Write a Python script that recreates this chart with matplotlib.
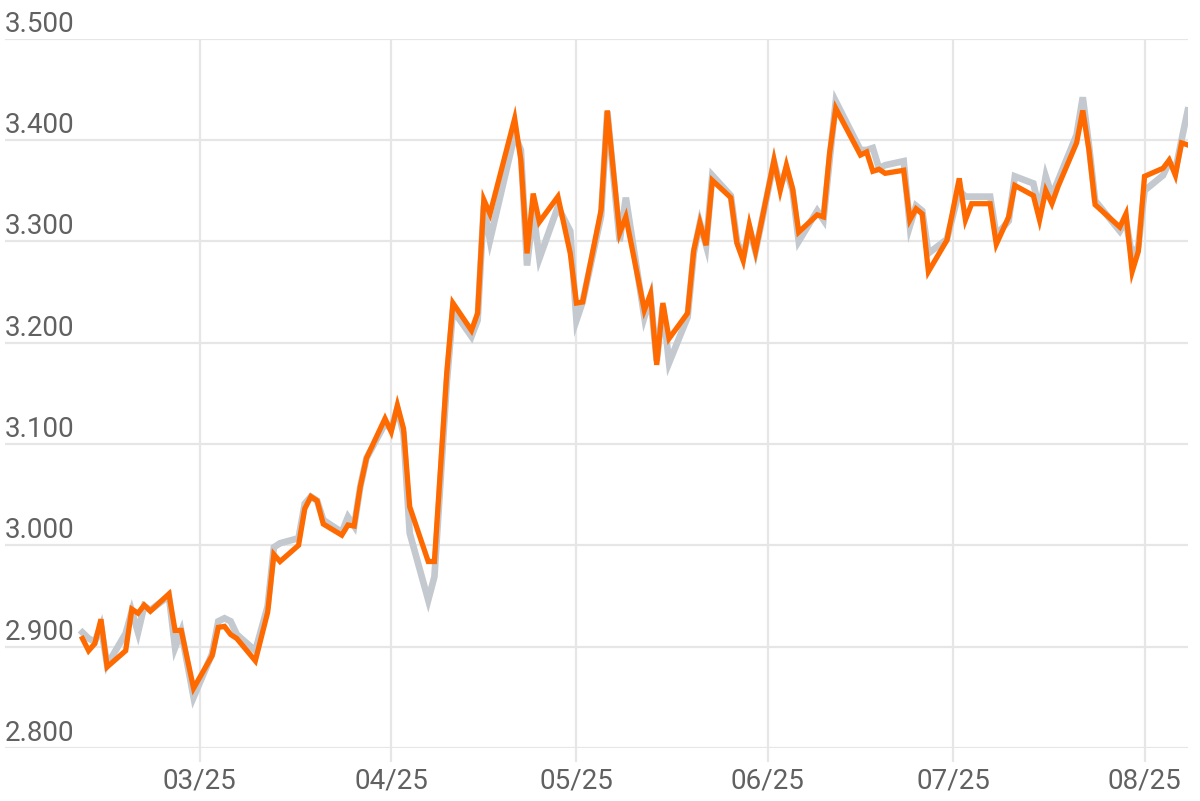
import matplotlib
matplotlib.use("Agg")
import matplotlib.pyplot as plt
import matplotlib.transforms as mtransforms
import pandas as pd

# trading days
dates = [
    "2025-02-10", "2025-02-11", "2025-02-12", "2025-02-13", "2025-02-14", "2025-02-17", "2025-02-18",
    "2025-02-19", "2025-02-20", "2025-02-21", "2025-02-24", "2025-02-25", "2025-02-26", "2025-02-28",
    "2025-03-03", "2025-03-04", "2025-03-05", "2025-03-06", "2025-03-07", "2025-03-10", "2025-03-12",
    "2025-03-13", "2025-03-14", "2025-03-17", "2025-03-18", "2025-03-19", "2025-03-20", "2025-03-21",
    "2025-03-24", "2025-03-25", "2025-03-26", "2025-03-27", "2025-03-28", "2025-03-31",
    "2025-04-01", "2025-04-02", "2025-04-03", "2025-04-04", "2025-04-07", "2025-04-08", "2025-04-10",
    "2025-04-11", "2025-04-14", "2025-04-15", "2025-04-16", "2025-04-17", "2025-04-21", "2025-04-22",
    "2025-04-23", "2025-04-24", "2025-04-25", "2025-04-28", "2025-04-30",
    "2025-05-01", "2025-05-02", "2025-05-05", "2025-05-06", "2025-05-08", "2025-05-09", "2025-05-12",
    "2025-05-13", "2025-05-14", "2025-05-15", "2025-05-16", "2025-05-19", "2025-05-20", "2025-05-21",
    "2025-05-22", "2025-05-23", "2025-05-26", "2025-05-27", "2025-05-28", "2025-05-29", "2025-05-30",
    "2025-06-02", "2025-06-03", "2025-06-04", "2025-06-05", "2025-06-06", "2025-06-09", "2025-06-10",
    "2025-06-11", "2025-06-12", "2025-06-16", "2025-06-17", "2025-06-18", "2025-06-19", "2025-06-20",
    "2025-06-23", "2025-06-24", "2025-06-25", "2025-06-26", "2025-06-27", "2025-06-30",
    "2025-07-02", "2025-07-03", "2025-07-04", "2025-07-07", "2025-07-08", "2025-07-10", "2025-07-11",
    "2025-07-14", "2025-07-15", "2025-07-16", "2025-07-17", "2025-07-18", "2025-07-21", "2025-07-22",
    "2025-07-23", "2025-07-24", "2025-07-28", "2025-07-29", "2025-07-30", "2025-07-31",
    "2025-08-01", "2025-08-04", "2025-08-05", "2025-08-06", "2025-08-07", "2025-08-08",
]

orange_vals = [
    2.908, 2.896, 2.903, 2.927, 2.880, 2.896, 2.937, 2.933, 2.941, 2.935, 2.952, 2.916, 2.916, 2.859,
    2.891, 2.919, 2.920, 2.912, 2.908, 2.886, 2.934, 2.991, 2.984, 3.000, 3.036, 3.048, 3.044, 3.021,
    3.010, 3.020, 3.019, 3.058, 3.086, 3.125,
    3.112, 3.138, 3.115, 3.038, 2.984, 2.984, 3.170, 3.239, 3.212, 3.229, 3.341, 3.327, 3.421, 3.380,
    3.288, 3.347, 3.319, 3.344, 3.288,
    3.239, 3.240, 3.331, 3.429, 3.308, 3.324, 3.232, 3.248, 3.178, 3.239, 3.204, 3.229, 3.291, 3.318,
    3.296, 3.360, 3.343, 3.298, 3.281, 3.316, 3.290,
    3.380, 3.350, 3.375, 3.352, 3.309, 3.326, 3.324, 3.387, 3.431, 3.385, 3.388, 3.369, 3.371, 3.367,
    3.370, 3.321, 3.332, 3.327, 3.270, 3.301,
    3.362, 3.321, 3.337, 3.337, 3.297, 3.324, 3.355, 3.345, 3.321, 3.350, 3.337, 3.354, 3.397, 3.429,
    3.390, 3.336, 3.314, 3.327, 3.270, 3.290,
    3.364, 3.372, 3.380, 3.365, 3.397, 3.395,
]

gray_vals = [
    2.914, 2.908, 2.905, 2.920, 2.882, 2.913, 2.935, 2.914, 2.940, 2.936, 2.950, 2.899, 2.915, 2.850,
    2.893, 2.925, 2.928, 2.925, 2.912, 2.896, 2.940, 2.998, 3.002, 3.007, 3.041, 3.048, 3.044, 3.025,
    3.013, 3.028, 3.019, 3.058, 3.086, 3.120,
    3.115, 3.135, 3.110, 3.012, 2.946, 2.969, 3.160, 3.232, 3.206, 3.222, 3.335, 3.301, 3.405, 3.390,
    3.276, 3.330, 3.283, 3.334, 3.310,
    3.222, 3.240, 3.325, 3.428, 3.300, 3.343, 3.225, 3.245, 3.182, 3.236, 3.180, 3.225, 3.288, 3.318,
    3.296, 3.365, 3.345, 3.300, 3.284, 3.313, 3.290,
    3.378, 3.355, 3.370, 3.350, 3.300, 3.330, 3.321, 3.380, 3.438, 3.390, 3.390, 3.392, 3.372, 3.375,
    3.379, 3.315, 3.335, 3.330, 3.288, 3.302,
    3.350, 3.344, 3.344, 3.344, 3.306, 3.320, 3.364, 3.357, 3.330, 3.364, 3.345, 3.360, 3.405, 3.442,
    3.395, 3.340, 3.310, 3.320, 3.285, 3.295,
    3.350, 3.365, 3.378, 3.370, 3.400, 3.429,
]

month_ticks = ["2025-03-01", "2025-04-01", "2025-05-01", "2025-06-01", "2025-07-01", "2025-08-01"]
month_labels = ["03/25", "04/25", "05/25", "06/25", "07/25", "08/25"]
y_ticks = [2.8, 2.9, 3.0, 3.1, 3.2, 3.3, 3.4, 3.5]

plt.rcParams['font.family'] = ['Roboto', 'DejaVu Sans']
GRID = "#e6e6e6"
TXT = "#616161"

x = pd.to_datetime(dates)
ticks = pd.to_datetime(month_ticks)

fig = plt.figure(figsize=(12, 8.01), dpi=100)
ax = fig.add_axes([5 / 1200, 53 / 801, 1183 / 1200, 709.5 / 801])

ax.plot(x, gray_vals, color="#c3c9cf", lw=4.8, solid_joinstyle="miter", zorder=3)
ax.plot(x, orange_vals, color="#ff6a00", lw=3.8, solid_joinstyle="miter", zorder=4)

ax.set_ylim(2.8, 3.5)
ax.set_xlim(pd.Timestamp("2025-01-28 11:00"), x[-1] + pd.Timedelta(hours=1))
ax.set_yticks(y_ticks)
ax.set_xticks(ticks)
ax.grid(True, color=GRID, lw=1.6, zorder=0)
ax.set_axisbelow(True)
ax.tick_params(axis="y", length=0, labelleft=False)
ax.tick_params(axis="x", length=10, width=1.6, color=GRID, labelbottom=False)
for s in ax.spines.values():
    s.set_visible(False)

# y labels sit above their gridline, left aligned
ytrans = mtransforms.offset_copy(mtransforms.blended_transform_factory(ax.transAxes, ax.transData),
                                 fig=fig, y=5, units="points")
for v in y_ticks:
    ax.text(0, v, f"{v:.3f}", transform=ytrans, ha="left", va="baseline", fontsize=20, color=TXT)

xtrans = mtransforms.offset_copy(mtransforms.blended_transform_factory(ax.transData, ax.transAxes),
                                 fig=fig, y=-28.8, units="points")
for t, lab in zip(ticks, month_labels):
    ax.text(t, 0, lab, transform=xtrans, ha="center", va="baseline", fontsize=20, color=TXT)

fig.savefig("out.png", dpi=100)
